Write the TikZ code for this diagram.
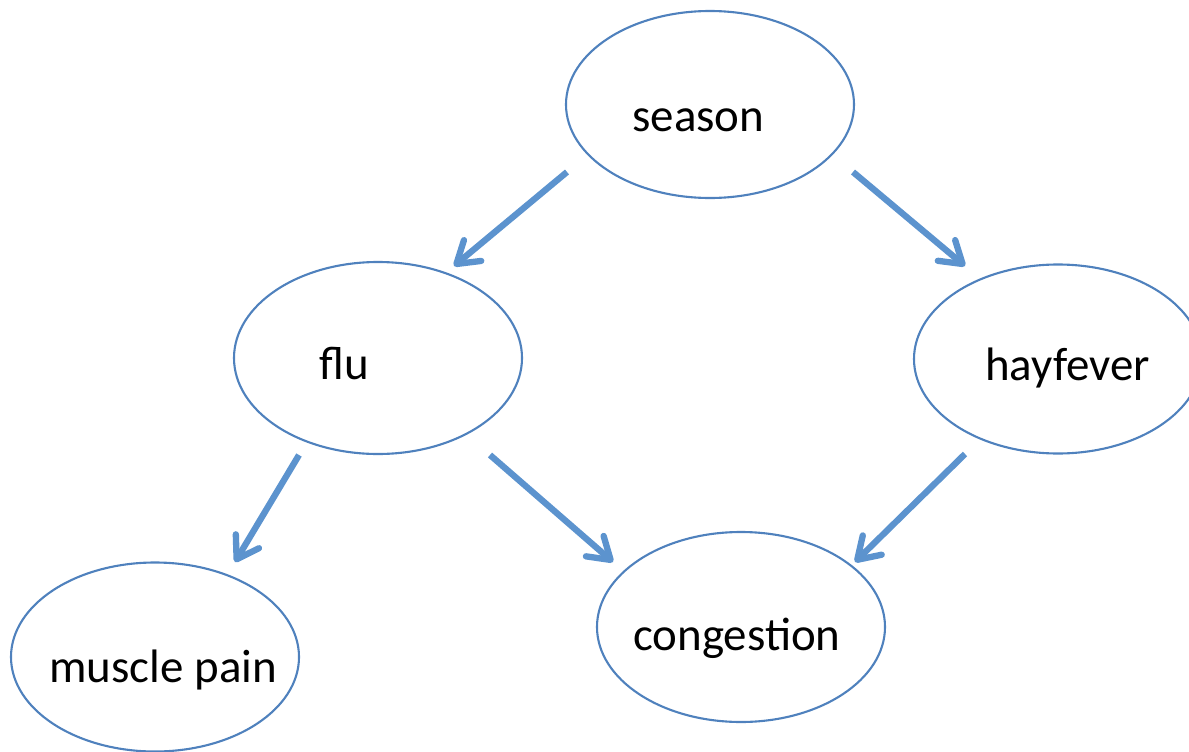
\documentclass[tikz,border=0pt]{standalone}
\usepackage{fontspec}
\setmainfont{Carlito}
\usepackage{xcolor}
\usetikzlibrary{shapes.geometric, arrows.meta}

\definecolor{ovalblue}{RGB}{79,129,189}
\definecolor{arrowblue}{RGB}{92,147,206}

\begin{document}
\begin{tikzpicture}[
    oval/.style={ellipse, draw=ovalblue, line width=1.2pt, minimum width=5.76cm,
                 minimum height=3.78cm, inner sep=0pt, outer sep=0pt},
    lbl/.style={anchor=base west, inner sep=0pt, font=\fontsize{26.7}{32}\selectfont},
    arc/.style={draw=arrowblue, line width=3.6pt,
                -{Straight Barb[length=0.42cm, width=0.54cm, line cap=round, line join=round]}}
]
    \useasboundingbox (0,0) rectangle (23.78,-15.04);

    % Nodes
    \node[oval, minimum height=3.74cm] (season)     at (14.2, -2.09)  {};
    \node[oval, minimum height=3.84cm] (flu)        at (7.56, -7.16)  {};
    \node[oval] (hayfever)   at (21.16, -7.18) {};
    \node[oval] (musclepain) at (3.1, -13.14)  {};
    \node[oval, minimum height=3.8cm]  (congestion) at (14.82, -12.54) {};

    % Labels
    \node[lbl] (seasontxt)     at (12.64, -2.62)  {season};
    \node[lbl] (flutxt)        at (6.38, -7.58)   {flu};
    \node[lbl] (hayfevertxt)   at (19.7, -7.6)    {hayfever};
    \node[lbl] (musclepaintxt) at (0.98, -13.64)  {muscle pain};
    \node[lbl] (congestiontxt) at (12.66, -13.0)  {congestion};

    % Edges (ends kept off the ovals)
    \draw[arc] ([shift={(-2.86,-1.35)}]season.center) -- ([shift={(1.52,1.84)}]flu.center);
    \draw[arc] ([shift={(2.86,-1.35)}]season.center)  -- ([shift={(-1.86,1.86)}]hayfever.center);
    \draw[arc] ([shift={(-1.58,-1.94)}]flu.center)    -- ([shift={(1.6,1.9)}]musclepain.center);
    \draw[arc] ([shift={(2.24,-1.94)}]flu.center)     -- ([shift={(-2.56,1.3)}]congestion.center);
    \draw[arc] ([shift={(-1.86,-1.9)}]hayfever.center) -- ([shift={(2.28,1.3)}]congestion.center);
\end{tikzpicture}
\end{document}
